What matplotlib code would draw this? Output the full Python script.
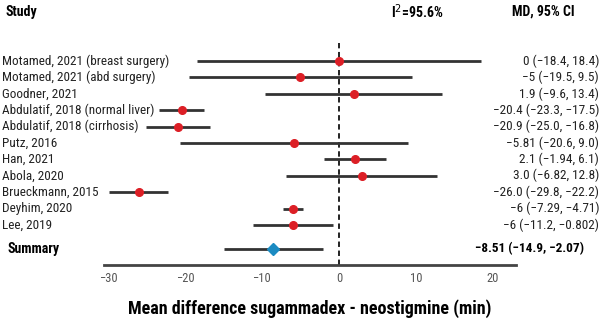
import matplotlib
matplotlib.use("Agg")
import matplotlib.pyplot as plt
from matplotlib import transforms

plt.rcParams['font.family'] = ['Roboto Condensed', 'DejaVu Sans']

# Study level results: mean difference with 95% CI
studies = ["Motamed, 2021 (breast surgery)", "Motamed, 2021 (abd surgery)", "Goodner, 2021",
           "Abdulatif, 2018 (normal liver)", "Abdulatif, 2018 (cirrhosis)", "Putz, 2016",
           "Han, 2021", "Abola, 2020", "Brueckmann, 2015", "Deyhim, 2020", "Lee, 2019"]
md = [0, -5, 1.9, -20.4, -20.9, -5.81, 2.1, 3.0, -26.0, -6, -6]
lo = [-18.4, -19.5, -9.6, -23.3, -25.0, -20.6, -1.94, -6.82, -29.8, -7.29, -11.2]
hi = [18.4, 9.5, 13.4, -17.5, -16.8, 9.0, 6.1, 12.8, -22.2, -4.71, -0.802]
ci_text = ["0 (\u221218.4, 18.4)", "\u22125 (\u221219.5, 9.5)", "1.9 (\u22129.6, 13.4)",
           "\u221220.4 (\u221223.3, \u221217.5)", "\u221220.9 (\u221225.0, \u221216.8)",
           "\u22125.81 (\u221220.6, 9.0)", "2.1 (\u22121.94, 6.1)", "3.0 (\u22126.82, 12.8)",
           "\u221226.0 (\u221229.8, \u221222.2)", "\u22126 (\u22127.29, \u22124.71)",
           "\u22126 (\u221211.2, \u22120.802)"]

summary_md, summary_lo, summary_hi = -8.51, -14.9, -2.07
summary_text = "\u22128.51 (\u221214.9, \u22122.07)"
i2_text = "I$^2$=95.6%"
xticks = [-30, -20, -10, 0, 10, 20]

W, H = 600, 329
fig = plt.figure(figsize=(W / 100, H / 100), dpi=100)
ax = fig.add_axes([104 / W, 1 - 265 / H, (516 - 104) / W, (265 - 43) / H])

ys = list(range(len(studies)))
y_sum = 11.45

line_c = "#333333"
ax.hlines(ys, lo, hi, color=line_c, lw=2, zorder=2)
ax.plot(md, ys, "o", color="#dc1f26", ms=5.5, zorder=3)
ax.hlines(y_sum, summary_lo, summary_hi, color=line_c, lw=2, zorder=2)
ax.plot([summary_md], [y_sum], "D", color="#1b8bc2", ms=6, zorder=3)
ax.axvline(0, color="#111111", lw=1.3, ls=(0, (3, 2)), zorder=1)

ax.set_xlim(-30.5, 23.0)
ax.set_ylim(12.44, -1.1)
ax.set_yticks([])
ax.set_xticks(xticks)
ax.set_xticklabels(["\u221230", "\u221220", "\u221210", "0", "10", "20"])
ax.tick_params(axis="x", length=0, pad=5, labelsize=9, labelcolor="#555555")
for s in ["top", "right", "left"]:
    ax.spines[s].set_visible(False)
ax.spines["bottom"].set_color("#444444")
ax.spines["bottom"].set_linewidth(2)
ax.set_xlabel("Mean difference sugammadex - neostigmine (min)", fontsize=13,
              fontweight="bold", labelpad=10)

# study names on the left, CI text on the right
trans = transforms.blended_transform_factory(fig.transFigure, ax.transData)
for y, name, txt in zip(ys, studies, ci_text):
    ax.text(2 / W, y, name, transform=trans, ha="left", va="center", fontsize=9.5,
            color="#222222")
    ax.text(599 / W, y, txt, transform=trans, ha="right", va="center", fontsize=9.5,
            color="#222222")
ax.text(8 / W, y_sum, "Summary", transform=trans, ha="left", va="center", fontsize=10,
        fontweight="bold")
ax.text(584 / W, y_sum, summary_text, transform=trans, ha="right", va="center",
        fontsize=9.5, fontweight="bold")

# column headers
fig.text(5 / W, 1 - 12 / H, "Study", ha="left", va="center", fontsize=10, fontweight="bold")
fig.text(417 / W, 1 - 12 / H, i2_text, ha="center", va="center", fontsize=10,
         fontweight="bold")
fig.text(543 / W, 1 - 12 / H, "MD, 95% CI", ha="center", va="center", fontsize=10,
         fontweight="bold")

fig.savefig("out.png", dpi=100, facecolor="white")
